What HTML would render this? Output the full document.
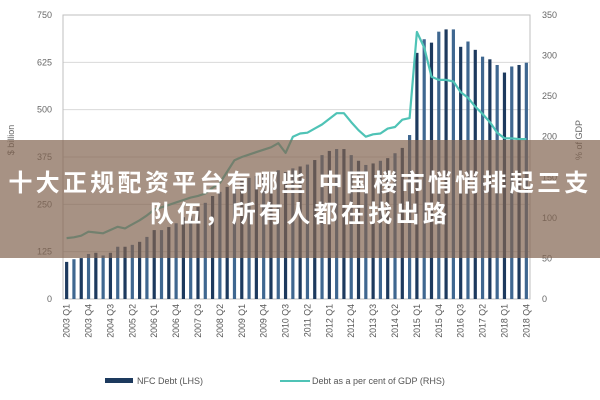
<!DOCTYPE html>
<html><head><meta charset="utf-8">
<style>
html,body{margin:0;padding:0;background:#fff;}
#wrap{position:relative;width:600px;height:400px;overflow:hidden;font-family:"Liberation Sans",sans-serif;}
#band{position:absolute;left:0;top:140px;width:600px;height:118px;background:rgba(130,100,80,0.7);}
#title{position:absolute;left:-40px;width:680px;top:168px;text-align:center;color:#fff;font-weight:bold;font-size:24px;line-height:31px;letter-spacing:3.3px;white-space:nowrap;font-family:"Liberation Sans","Noto Sans CJK SC",sans-serif;}
</style></head>
<body>
<div id="wrap">
<svg id="chart" width="600" height="400"></svg>
<div id="band"></div>
<div id="title">十大正规配资平台有哪些 中国楼市悄悄排起三支<br>队伍，所有人都在找出路</div>
</div>
<script>
const quarters = [];
for (let y = 2003; y <= 2018; y++) for (let q = 1; q <= 4; q++) quarters.push(y + ' Q' + q);
const debtValues = [98,105,108,119,122,115,122,138,138,143,151,164,182,182,190,200,216,220,243,254,272,283,296,309,312,320,325,330,335,340,335,345,350,355,367,380,391,396,396,380,365,354,358,365,372,385,399,433,650,686,677,706,712,712,666,680,658,640,633,618,598,614,618,624];
const gdpPct = [75,76,78,83,82,81,85,89,87,92,97,103,110,113,116,119,122,125,127,130,137,143,157,171,175,178,181,184,187,192,180,200,204,205,210,215,222,229,229,218,208,200,203,204,210,212,221,223,329,310,274,270,270,268,255,248,237,228,218,205,198,198,197,197];
const leftTicks = [0,125,250,375,500,625,750];
const rightTicks = [0,50,100,150,200,250,300,350];

const svg = document.getElementById('chart');
const NS = 'http://www.w3.org/2000/svg';
const X0 = 63, X1 = 530, YT = 15, YB = 299;
const step = (X1 - X0) / quarters.length;
const xPos = i => X0 + step * (i + 0.5);
const yL = v => YB - (v / 750) * (YB - YT);
const yR = v => YB - (v / 350) * (YB - YT);
function mk(tag, attrs, txt) {
  const e = document.createElementNS(NS, tag);
  for (const k in attrs) e.setAttribute(k, attrs[k]);
  if (txt !== undefined) e.textContent = txt;
  svg.appendChild(e);
  return e;
}
leftTicks.forEach(t => {
  const g = mk('line', {x1: X0, x2: X1, y1: yL(t), y2: yL(t), stroke: '#d9d9d9', 'stroke-width': 1});
  
  
  const l = mk('text', {x: 52, y: yL(t) + 3, 'text-anchor': 'end', 'font-size': 9, fill: '#666'}, String(t));
  
  
});
rightTicks.forEach(t => {
  const l = mk('text', {x: 542, y: yR(t) + 3, 'font-size': 9, fill: '#666'}, String(t));
  
  
});
const box = mk('rect', {x: X0, y: YT, width: X1 - X0, height: YB - YT, fill: 'none', stroke: '#bfbfbf', 'stroke-width': 1});


debtValues.forEach((v, i) => {
  const b = mk('rect', {x: xPos(i) - 1.6, y: yL(v), width: 3.2, height: YB - yL(v), fill: i % 2 ? '#3f6790' : '#1d3a5e'});
  
  
});
const pts = gdpPct.map((v, i) => xPos(i).toFixed(1) + ',' + yR(v).toFixed(1)).join(' ');
const ln = mk('polyline', {points: pts, fill: 'none', stroke: '#4fc3b6', 'stroke-width': 2.2, 'stroke-linejoin': 'round'});


quarters.forEach((q, i) => {
  if (i % 3 !== 0) return;
  const x = xPos(i) + 3, y = 304;
  const t = mk('text', {x: x, y: y, 'font-size': 8.8, fill: '#555', 'text-anchor': 'end', transform: 'rotate(-90 ' + x + ' ' + y + ')'}, q);
  
  
});
const lt = mk('text', {x: 14, y: 140, 'font-size': 9, fill: '#666', 'text-anchor': 'middle', transform: 'rotate(-90 14 140)'}, '$ billion');


const rt = mk('text', {x: 582, y: 140, 'font-size': 9, fill: '#666', 'text-anchor': 'middle', transform: 'rotate(-90 582 140)'}, '% of GDP');


const s1 = mk('rect', {x: 105, y: 378, width: 28, height: 5, fill: '#1d3a5e'});


const l1 = mk('text', {x: 137, y: 384, 'font-size': 9, fill: '#555'}, 'NFC Debt (LHS)');


const s2 = mk('line', {x1: 280, x2: 310, y1: 381, y2: 381, stroke: '#4fc3b6', 'stroke-width': 2});


const l2 = mk('text', {x: 312, y: 384, 'font-size': 9, fill: '#555'}, 'Debt as a per cent of GDP (RHS)');


</script>
</body></html>
